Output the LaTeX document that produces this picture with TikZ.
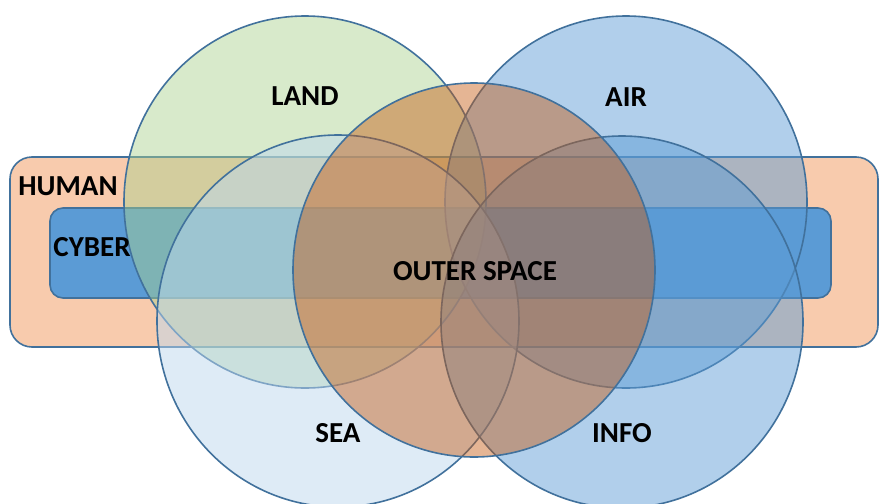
\documentclass[tikz,border=0pt]{standalone}
\usepackage{fontspec}
\setmainfont{Carlito}
\definecolor{edge}{HTML}{41719C}
\definecolor{humanc}{HTML}{F8CBAD}
\definecolor{cyberc}{HTML}{5B9BD5}
\definecolor{landc}{HTML}{A9D18E}
\definecolor{seac}{HTML}{BDD7EE}
\definecolor{spacec}{HTML}{C55A11}
\tikzset{
  zone/.style={draw=edge, line width=0.8pt},
  lbl/.style={font=\bfseries\fontsize{14.5}{16}\selectfont, text=black, inner sep=0pt},
}
\begin{document}
\begin{tikzpicture}[x=0.5pt,y=-0.5pt]
            \useasboundingbox (0,0) rectangle (880,504);
            \coordinate (land) at (305,202);
            \coordinate (air) at (626,202);
            \coordinate (sea) at (338,321);
            \coordinate (info) at (622,322);
            \coordinate (space) at (474,270);

            % the two bands
            \filldraw[zone, fill=humanc, rounded corners=11pt] (10,157) rectangle (878,347);
            \filldraw[zone, fill=cyberc, rounded corners=6.5pt] (50,208) rectangle (831,298);

            % the five circles
            \filldraw[zone, fill=landc, fill opacity=.46] (land) ellipse [x radius=181, y radius=186];
            \filldraw[zone, fill=cyberc, fill opacity=.48] (air) ellipse [x radius=181, y radius=186];
            \filldraw[zone, fill=seac, fill opacity=.5] (sea) ellipse [x radius=181, y radius=186];
            \filldraw[zone, fill=cyberc, fill opacity=.48] (info) ellipse [x radius=181, y radius=186];
            \filldraw[zone, fill=spacec, fill opacity=.45] (space) ellipse [x radius=181, y radius=187];

            \node[lbl] (human) at (68,186) {HUMAN};
            \node[lbl] (cyber) at (92,247) {CYBER};
            \node[lbl] (landtxt) at (305,96) {LAND};
            \node[lbl] (airtxt) at (626,97) {AIR};
            \node[lbl] (spacetxt) at (475,271) {OUTER SPACE};
            \node[lbl] (seatxt) at (338,433) {SEA};
            \node[lbl] (infotxt) at (622,433) {INFO};
        \end{tikzpicture}
\end{document}
